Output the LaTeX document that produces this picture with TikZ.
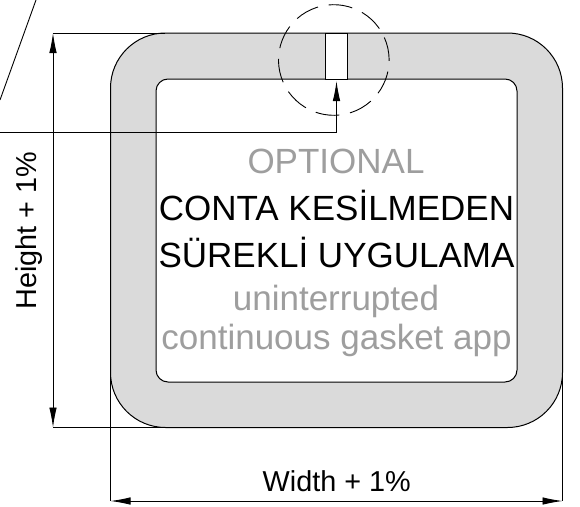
\documentclass[tikz,border=0pt]{standalone}
\usepackage{fontspec}
\setmainfont{Liberation Sans}
\usetikzlibrary{arrows.meta}
\definecolor{gasket}{HTML}{DADADA}
\definecolor{soft}{HTML}{9E9E9E}
\tikzset{
  px/.style={x=1pt,y=-1pt},
  body/.style={draw=black,line width=1pt,fill=gasket,rounded corners=55pt},
  hole/.style={draw=black,line width=1pt,fill=white,rounded corners=12pt},
  slot/.style={draw=black,line width=1pt,fill=white},
  thin/.style={draw=black,line width=0.9pt},
  dim/.style={thin,{Latex[length=20pt,width=7.5pt]}-{Latex[length=20pt,width=7.5pt]}},
  lead/.style={thin,-{Latex[length=20pt,width=7.5pt]}},
  lbl/.style={font=\fontsize{28.8}{28.8}\selectfont,inner sep=0pt,text=black,anchor=base},
  big/.style={font=\fontsize{35}{35}\selectfont,inner sep=0pt,text=black,anchor=base},
  bigsoft/.style={big,text=soft}
}
\begin{document}
\begin{tikzpicture}[px]
\useasboundingbox (0,0) rectangle (580,506);
\path[body] (110.5,33) rectangle (562.5,427.5);
\path[hole] (156,79) rectangle (517,382);
\path[slot] (325,33) rectangle (347.5,79);
\draw[thin,dash pattern=on 24pt off 10.8pt,rotate around={24:(333.8,60)}] (333.8,60) circle[radius=55.3];
% dimensions
\coordinate (tl) at (165,33);
\coordinate (dt) at (53,33);
\coordinate (db) at (53,427.5);
\coordinate (bl) at (165.5,427.5);
\coordinate (ol) at (110.5,372);
\coordinate (or) at (562.5,372);
\coordinate (wl) at (110.5,501);
\coordinate (wr) at (562.5,501);
\coordinate (s1) at (36,0);
\coordinate (s2) at (0,100);
\coordinate (h1) at (0,132);
\coordinate (h2) at (336.5,132);
\coordinate (tip) at (336.5,81);
\draw[thin] (tl) -- (dt);
\draw[thin] (bl) -- (db);
\draw[dim] (dt) -- (db);
\draw[thin] (ol) -- (wl);
\draw[thin] (or) -- (wr);
\draw[dim] (wl) -- (wr);
\draw[thin] (s1) -- (s2);
\draw[thin] (h1) -- (h2);
\draw[lead] (h2) -- (tip);
% texts
\node[lbl,rotate=90] (hgt) at (36.5,230.5) {Height + 1\%};
\node[lbl] (wid) at (336.7,491.7) {Width + 1\%};
\node[bigsoft] (t1) at (336,173) {OPTIONAL};
\node[big] (t2) at (336.5,220) {CONTA KESİLMEDEN};
\node[big] (t3) at (336.5,267.5) {SÜREKLİ UYGULAMA};
\node[bigsoft] (t4) at (336,310.5) {uninterrupted};
\node[bigsoft] (t5) at (336.5,349) {continuous gasket app};
\end{tikzpicture}
\end{document}
